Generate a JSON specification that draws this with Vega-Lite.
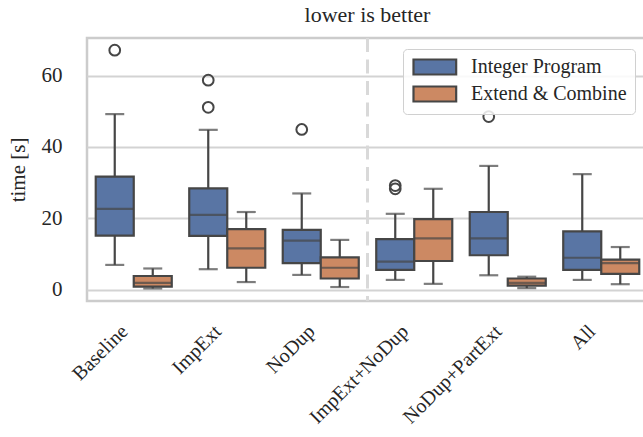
{
  "$schema": "https://vega.github.io/schema/vega-lite/v6.json",
  "width": 561,
  "height": 263,
  "autosize": "none",
  "padding": {"left": 87, "top": 38, "right": 0, "bottom": 136},
  "background": "white",
  "config": {
    "font": "Liberation Serif",
    "view": {"stroke": "#cccccc", "strokeWidth": 2.5},
    "axis": {"labelColor": "#262626", "titleColor": "#262626", "labelFontSize": 21, "titleFontSize": 21, "titleFontWeight": "normal", "domain": false, "ticks": false, "tickSize": 0}
  },
  "title": {"text": "lower is better", "fontSize": 22, "fontWeight": "normal", "color": "#262626", "offset": 10},
  "datasets": {
    "boxes": [
      {"group": "Baseline", "method": "Integer Program", "lo": 7.0, "q1": 15.2, "med": 22.7, "q3": 31.7, "hi": 49.2},
      {"group": "Baseline", "method": "Extend & Combine", "lo": 0.4, "q1": 0.9, "med": 2.0, "q3": 3.9, "hi": 6.0},
      {"group": "ImpExt", "method": "Integer Program", "lo": 5.8, "q1": 15.1, "med": 21.0, "q3": 28.4, "hi": 44.8},
      {"group": "ImpExt", "method": "Extend & Combine", "lo": 2.2, "q1": 6.2, "med": 11.6, "q3": 17.0, "hi": 21.8},
      {"group": "NoDup", "method": "Integer Program", "lo": 4.2, "q1": 7.5, "med": 13.8, "q3": 16.8, "hi": 27.0},
      {"group": "NoDup", "method": "Extend & Combine", "lo": 0.8, "q1": 3.2, "med": 6.2, "q3": 9.1, "hi": 14.0},
      {"group": "ImpExt+NoDup", "method": "Integer Program", "lo": 2.8, "q1": 5.6, "med": 7.9, "q3": 14.2, "hi": 21.3},
      {"group": "ImpExt+NoDup", "method": "Extend & Combine", "lo": 1.7, "q1": 8.1, "med": 14.4, "q3": 19.8, "hi": 28.3},
      {"group": "NoDup+PartExt", "method": "Integer Program", "lo": 4.1, "q1": 9.7, "med": 14.4, "q3": 21.8, "hi": 34.7},
      {"group": "NoDup+PartExt", "method": "Extend & Combine", "lo": 0.5, "q1": 1.2, "med": 2.0, "q3": 3.2, "hi": 3.7},
      {"group": "All", "method": "Integer Program", "lo": 2.8, "q1": 5.6, "med": 9.0, "q3": 16.4, "hi": 32.4},
      {"group": "All", "method": "Extend & Combine", "lo": 1.6, "q1": 4.5, "med": 7.5, "q3": 8.5, "hi": 12.0}
    ],
    "outliers": [
      {"group": "Baseline", "method": "Integer Program", "t": 67.1},
      {"group": "ImpExt", "method": "Integer Program", "t": 58.7},
      {"group": "ImpExt", "method": "Integer Program", "t": 51.1},
      {"group": "NoDup", "method": "Integer Program", "t": 44.9},
      {"group": "ImpExt+NoDup", "method": "Integer Program", "t": 29.2},
      {"group": "ImpExt+NoDup", "method": "Integer Program", "t": 28.3},
      {"group": "NoDup+PartExt", "method": "Integer Program", "t": 48.5}
    ],
    "divider": [{"group": "ImpExt+NoDup"}]
  },
  "encoding": {
    "x": {
      "field": "group", "type": "nominal", "title": null,
      "scale": {"domain": ["Baseline", "ImpExt", "NoDup", "ImpExt+NoDup", "NoDup+PartExt", "All"], "paddingInner": 0, "paddingOuter": 0},
      "axis": {"labelAngle": -45, "labelAlign": "right", "labelBaseline": "middle", "labelPadding": 27, "labelFontSize": 20, "grid": false, "labelOffset": -9}
    }
  },
  "layer": [
    {
      "data": {"name": "divider"},
      "mark": {"type": "rule", "color": "#d9d9d9", "strokeWidth": 3, "strokeDash": [14, 7.5]},
      "encoding": {"x": {"field": "group", "type": "nominal", "bandPosition": 0}}
    },
    {
      "data": {"name": "boxes"},
      "encoding": {
        "xOffset": {"field": "method", "type": "nominal", "scale": {"domain": ["Integer Program", "Extend & Combine"], "paddingInner": 0, "paddingOuter": 0.23}},
        "y": {"type": "quantitative", "scale": {"domain": [-3.1, 70.5], "nice": false, "zero": false}, "axis": {"title": "time [s]", "values": [0, 20, 40, 60], "grid": true, "gridColor": "#d3d3d3", "gridWidth": 2, "labelPadding": 25, "titlePadding": 13}}
      },
      "layer": [
        {"mark": {"type": "rule", "color": "#464646", "strokeWidth": 2.2}, "encoding": {"y": {"field": "lo", "type": "quantitative"}, "y2": {"field": "q1"}}},
        {"mark": {"type": "rule", "color": "#464646", "strokeWidth": 2.2}, "encoding": {"y": {"field": "q3", "type": "quantitative"}, "y2": {"field": "hi"}}},
        {"mark": {"type": "tick", "color": "#464646", "thickness": 2.2, "size": 19, "orient": "horizontal"}, "encoding": {"y": {"field": "lo", "type": "quantitative"}}},
        {"mark": {"type": "tick", "color": "#464646", "thickness": 2.2, "size": 19, "orient": "horizontal"}, "encoding": {"y": {"field": "hi", "type": "quantitative"}}},
        {
          "mark": {"type": "bar", "stroke": "#464646", "strokeWidth": 2.2},
          "encoding": {
            "y": {"field": "q1", "type": "quantitative"}, "y2": {"field": "q3"},
            "color": {"field": "method", "type": "nominal", "title": null,
              "scale": {"domain": ["Integer Program", "Extend & Combine"], "range": ["#5975a4", "#cc8963"]},
              "legend": {"orient": "none", "legendX": 316, "legendY": 11, "padding": 8, "labelFontSize": 20, "labelColor": "#262626", "labelFont": "Liberation Serif",
                "symbolType": "M-1,-1H4.69V1H-1Z", "symbolSize": 225, "symbolStrokeColor": "#464646", "symbolStrokeWidth": 2.2, "symbolOpacity": 1,
                "labelOffset": 40, "rowPadding": 3, "strokeColor": "#d0d0d0", "fillColor": "rgba(255,255,255,0.85)", "cornerRadius": 4}
            }
          }
        },
        {"mark": {"type": "tick", "color": "#464646", "thickness": 2.2, "size": 37, "orient": "horizontal"}, "encoding": {"y": {"field": "med", "type": "quantitative"}}}
      ]
    },
    {
      "data": {"name": "outliers"},
      "mark": {"type": "point", "filled": false, "color": "#464646", "strokeWidth": 2, "size": 115, "opacity": 1},
      "encoding": {
        "xOffset": {"field": "method", "type": "nominal"},
        "y": {"field": "t", "type": "quantitative"}
      }
    }
  ]
}
